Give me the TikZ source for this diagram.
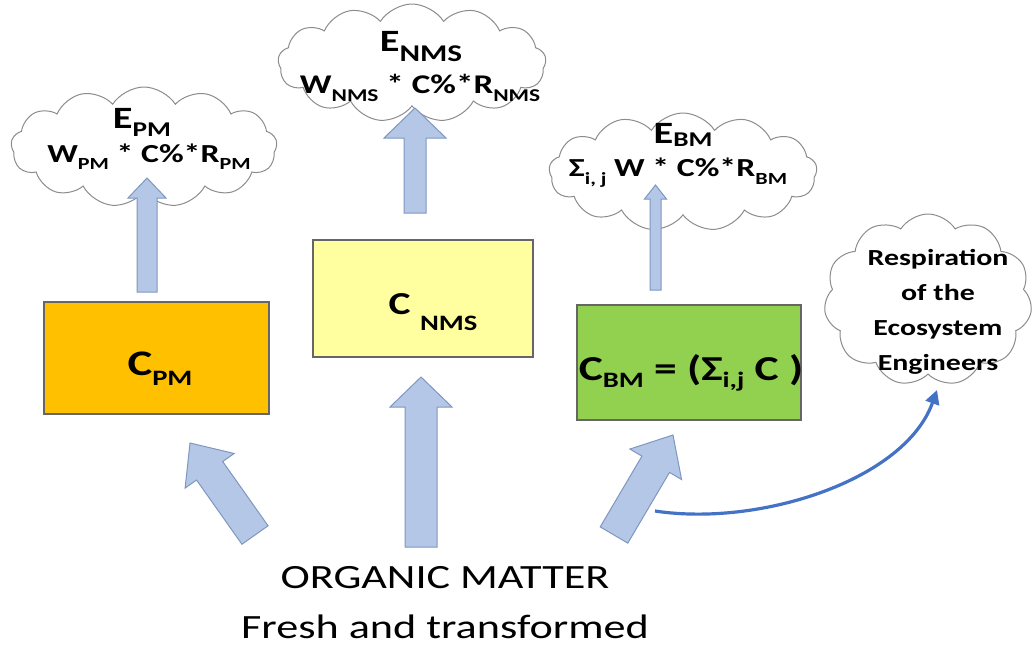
\documentclass[tikz,border=0pt]{standalone}
\usepackage{fontspec}
\setmainfont{Carlito}[FakeStretch=1.3]
\usetikzlibrary{shapes.symbols,calc,arrows.meta}
\definecolor{arrfill}{HTML}{B4C7E7}
\definecolor{arrdraw}{HTML}{7F96C0}
\definecolor{pmfill}{HTML}{FFC000}
\definecolor{nmsfill}{HTML}{FFFF9F}
\definecolor{bmfill}{HTML}{92D050}
\definecolor{curveblue}{HTML}{4472C4}
\definecolor{cloudline}{HTML}{8C8C8C}
\newcommand\dn[3]{\raisebox{-#2pt}{\fontsize{#1}{#1}\selectfont #3}}
\newcommand\blkarrow[6]{% name, tail, tip, half shaft, half head, head length
  \coordinate (#1h) at ($(#3)!#6!(#2)$);
  \draw[barrow] ($(#2)!#4!90:(#3)$) -- ($(#1h)!#4!-90:(#2)$) -- ($(#1h)!#5!-90:(#2)$)
    -- (#3) -- ($(#1h)!#5!90:(#2)$) -- ($(#1h)!#4!90:(#2)$) -- ($(#2)!#4!-90:(#3)$) -- cycle;}
\tikzset{
  barrow/.style={fill=arrfill, draw=arrdraw, line width=1pt, line join=miter},
  cloudbox/.style={cloud, cloud puffs=13, cloud puff arc=115, draw=cloudline, fill=white, line width=1pt, inner sep=0pt},
  boxc/.style={draw=black!60, line width=1.2pt, inner sep=0pt},
  lbl/.style={font=\bfseries, inner sep=0pt, align=center},
  blbl/.style={font=\bfseries, inner sep=0pt, anchor=base},
}
\begin{document}
\begin{tikzpicture}[x=1pt,y=-1pt]
\useasboundingbox (0,0) rectangle (1036,648);
% clouds
\node[cloudbox, minimum width=266pt, minimum height=120pt] (cpm) at (144,147) {};
\node[cloudbox, minimum width=268pt, minimum height=118pt] (cnms) at (412,63) {};
\node[cloudbox, minimum width=268pt, minimum height=118pt] (cbm) at (683,172) {};
\node[cloudbox, cloud puffs=11, minimum width=208pt, minimum height=172pt] (cres) at (928,300) {};
% cloud texts
\node[blbl] (epm) at (142,128) {\fontsize{31}{31}\selectfont E\dn{21}{8}{PM}};
\node[blbl] (wpm) at (149,162) {\fontsize{26}{26}\selectfont W\dn{17}{7}{PM} * C\%*R\dn{17}{7}{PM}};
\node[blbl] (enms) at (421,51) {\fontsize{31}{31}\selectfont E\dn{24}{10}{NMS}};
\node[blbl] (wnms) at (420,93) {\fontsize{27}{27}\selectfont W\dn{18}{8}{NMS} * C\%*R\dn{18}{8}{NMS}};
\node[blbl] (ebm) at (683,143) {\fontsize{31}{31}\selectfont E\dn{21}{3}{BM}};
\node[blbl] (wbm) at (678,176) {\fontsize{26}{26}\selectfont Σ\dn{17}{8}{i, j} W * C\%*R\dn{17}{8}{BM}};
\node[lbl, font=\bfseries\fontsize{23}{35}\selectfont] (tres) at (938,312) {Respiration\\of the\\Ecosystem\\Engineers};
% boxes
\node[boxc, fill=pmfill, minimum width=225pt, minimum height=112pt] (bpm) at (156.5,358) {};
\node[boxc, fill=nmsfill, minimum width=220pt, minimum height=117pt] (bnms) at (423,298.5) {};
\node[boxc, fill=bmfill, minimum width=224pt, minimum height=115pt] (bbm) at (689,362.5) {};
\node[blbl] (tpm) at (160,375) {\fontsize{36}{36}\selectfont C\dn{22}{10}{PM}};
\node[blbl] (tnms) at (433,314) {\fontsize{32}{32}\selectfont C \dn{22}{16}{NMS}};
\node[blbl] (tbm) at (691,380) {\fontsize{35}{35}\selectfont C\dn{22}{7}{BM} = (Σ\dn{22}{7}{i,j} C )};
% bottom text
\node[inner sep=0pt, font=\fontsize{34}{50}\selectfont, align=center] (om) at (445,603) {ORGANIC MATTER\\Fresh and transformed};
% arrow anchor coordinates
\coordinate (a1t) at (147,292); \coordinate (a1h) at (147,178);
\coordinate (a2t) at (415,213); \coordinate (a2h) at (415,108);
\coordinate (a3t) at (655.5,290); \coordinate (a3h) at (655.5,185);
\coordinate (b1t) at (255,535); \coordinate (b1h) at (190,443);
\coordinate (b2t) at (421,547); \coordinate (b2h) at (421,377);
\coordinate (b3t) at (614,535); \coordinate (b3h) at (673,435);
% arrows
\blkarrow{A}{a1t}{a1h}{10pt}{19pt}{20pt}
\blkarrow{B}{a2t}{a2h}{11pt}{31pt}{30pt}
\blkarrow{C}{a3t}{a3h}{5.5pt}{11pt}{14pt}
\blkarrow{D}{b1t}{b1h}{16pt}{30pt}{34pt}
\blkarrow{E}{b2t}{b2h}{16pt}{31pt}{30pt}
\blkarrow{F}{b3t}{b3h}{16pt}{30pt}{34pt}
% curved arrow
\coordinate (cs) at (655,511);
\coordinate (ce) at (937,390);
\draw[curveblue, line width=3.2pt, -{Triangle[length=14pt,width=14pt]}] (cs) .. controls (760,527) and (905,480) .. (ce);
\end{tikzpicture}
\end{document}
